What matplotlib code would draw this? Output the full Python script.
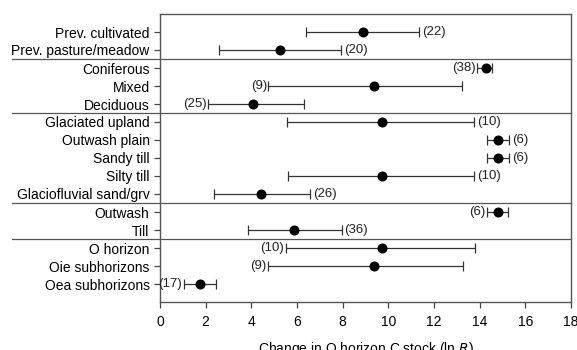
import matplotlib
matplotlib.use("Agg")
import matplotlib.pyplot as plt

categories = ["Prev. cultivated", "Prev. pasture/meadow", "Coniferous", "Mixed", "Deciduous",
              "Glaciated upland", "Outwash plain", "Sandy till", "Silty till", "Glaciofluvial sand/grv",
              "Outwash", "Till", "O horizon", "Oie subhorizons", "Oea subhorizons"]
means = [8.88, 5.26, 14.28, 9.37, 4.09, 9.72, 14.82, 14.82, 9.72, 4.42, 14.80, 5.87, 9.72, 9.37, 1.77]
lower = [6.40, 2.60, 13.90, 4.75, 2.09, 5.58, 14.34, 14.34, 5.60, 2.37, 14.32, 3.87, 5.50, 4.72, 1.04]
upper = [11.35, 7.93, 14.56, 13.21, 6.29, 13.77, 15.30, 15.30, 13.75, 6.57, 15.26, 7.96, 13.80, 13.26, 2.44]
n_labels = ["(22)", "(20)", "(38)", "(9)", "(25)", "(10)", "(6)", "(6)", "(10)", "(26)",
            "(6)", "(36)", "(10)", "(9)", "(17)"]
label_side = ["right", "right", "left", "left", "left", "right", "right", "right", "right", "right",
              "left", "right", "left", "left", "left"]
group_breaks = [2, 5, 10, 12]  # separators after these many rows
xticks = [0, 2, 4, 6, 8, 10, 12, 14, 16, 18]

plt.rcParams['font.family'] = ['Liberation Sans', 'DejaVu Sans']
fig = plt.figure(figsize=(5.77, 3.5), dpi=100)
ax = fig.add_axes([160/577, 1 - 302/350, (571-160)/577, (302-14)/350])

ypos = list(range(1, len(categories) + 1))
xerr = [[m - l for m, l in zip(means, lower)], [u - m for u, m in zip(upper, means)]]
ax.errorbar(means, ypos, xerr=xerr, fmt='o', color='black', ecolor='#333333',
            elinewidth=0.9, capsize=3.5, capthick=0.9, markersize=6.2)

for y, l, u, lab, side in zip(ypos, lower, upper, n_labels, label_side):
    if side == "right":
        ax.annotate(lab, (u, y), xytext=(2, 0), textcoords='offset points',
                    ha='left', va='center', fontsize=9.5, color='#222222')
    else:
        ax.annotate(lab, (l, y), xytext=(-1, 0), textcoords='offset points',
                    ha='right', va='center', fontsize=9.5, color='#222222')

trans = ax.get_yaxis_transform()
for b in group_breaks:
    yb = b + 0.5
    ax.plot([-0.36, 1], [yb, yb], transform=trans, color='#555555', lw=0.9, clip_on=False)

ax.set_ylim(16, 0)
ax.set_xlim(0, 18)
ax.set_yticks(ypos)
ax.set_yticklabels(categories, fontsize=10)
ax.set_xticks(xticks)
ax.set_xticklabels([str(t) for t in xticks], fontsize=10)
ax.tick_params(axis='both', direction='out', length=4, color='#444444', width=0.9)
ax.tick_params(axis='x', pad=5)
for s in ax.spines.values():
    s.set_color('#555555')
    s.set_linewidth(1.0)
ax.set_xlabel("Change in O horizon C stock (ln $\\it{R}$)", fontsize=10, labelpad=8)

fig.savefig("out.png", dpi=100)
